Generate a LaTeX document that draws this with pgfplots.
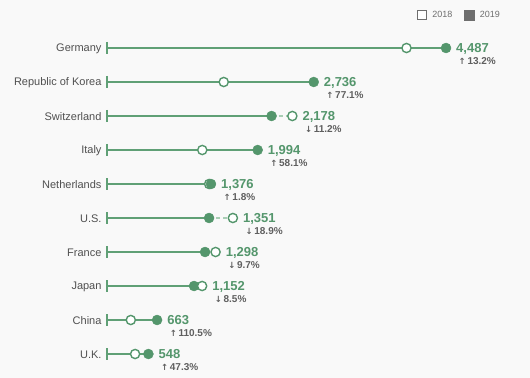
\documentclass[border=0pt]{standalone}
\usepackage{pgfplots}
\pgfplotsset{compat=1.18}
\usepackage{pgfplotstable}
\usepackage{fontspec}
\setmainfont{Liberation Sans}
\newfontfamily\sym{DejaVu Sans}
\definecolor{grn}{RGB}{84,150,108}
\definecolor{lgrn}{RGB}{96,160,118}
\definecolor{dgrn}{RGB}{168,206,180}
\definecolor{txt}{RGB}{80,80,80}
\definecolor{pctc}{RGB}{95,95,95}
\definecolor{legc}{RGB}{110,110,110}
\definecolor{bg}{RGB}{249,249,249}
\pgfplotstableread{
y v18 v19 xl lab pct
0 3964 4487 4487 {4,487} 13.2
1 1545 2736 2736 {2,736} 77.1
2 2453 2178 2453 {2,178} -11.2
3 1261 1994 1994 {1,994} 58.1
4 1352 1376 1376 {1,376} 1.8
5 1666 1351 1666 {1,351} -18.9
6 1437 1298 1437 {1,298} -9.7
7 1259 1152 1259 {1,152} -8.5
8 315 663 663 663 110.5
9 372 548 548 548 47.3
}\data
\begin{document}
\begin{tikzpicture}
\fill[bg] (-107bp,-7bp) rectangle (423bp,371bp);
\begin{axis}[
  at={(0,0)}, anchor=south west,
  scale only axis, width=400bp, height=340bp,
  xmin=0, xmax=5294, ymin=-0.5, ymax=9.5, y dir=reverse,
  clip=false,
  axis line style={draw=none},
  xtick=\empty,
  ytick={0,...,9},
  yticklabels={Germany,Republic of Korea,Switzerland,Italy,Netherlands,U.S.,France,Japan,China,U.K.},
  major tick length=0,
  yticklabel style={font=\fontsize{11bp}{13bp}\selectfont, text=txt, xshift=-2bp, yshift=-1bp},
  unbounded coords=jump,
  legend style={at={(1,1)}, anchor=south east, xshift=-2bp, yshift=8bp, draw=none, fill=none,
    font=\fontsize{9bp}{10bp}\selectfont, text=legc,
    /tikz/every even column/.append style={column sep=10bp}},
  legend columns=2,
]
\addlegendimage{legend image code/.code={\draw[legc, line width=1.3pt, fill=white] (0bp,-4.5bp) rectangle (9bp,4.5bp);}}
\addlegendentry{\hspace{3bp}2018}
\addlegendimage{legend image code/.code={\fill[legc] (0bp,-5bp) rectangle (10bp,5bp);}}
\addlegendentry{\hspace{3bp}2019}
% solid lines from 0 to 2019 value
\addplot[lgrn, line width=1.4pt, mark=none, forget plot] coordinates {
 (0,0) (4487,0) (nan,0)
 (0,1) (2736,1) (nan,1)
 (0,2) (2178,2) (nan,2)
 (0,3) (1994,3) (nan,3)
 (0,4) (1376,4) (nan,4)
 (0,5) (1351,5) (nan,5)
 (0,6) (1298,6) (nan,6)
 (0,7) (1152,7) (nan,7)
 (0,8) (663,8) (nan,8)
 (0,9) (548,9)
};
% start ticks
\addplot[only marks, mark=|, mark size=6bp, mark options={lgrn, line width=1.4pt}, forget plot]
 table[x expr=0, y=y] {\data};
% dashed segments for decreases
\addplot[dgrn, line width=1.4pt, dash pattern=on 4bp off 3bp, mark=none, forget plot] coordinates {
 (2178,2) (2453,2) (nan,2)
 (1351,5) (1666,5) (nan,5)
 (1298,6) (1437,6) (nan,6)
 (1152,7) (1259,7)
};
% 2019 markers drawn beneath (decreases)
\addplot[only marks, mark=*, mark size=5bp, mark options={draw=grn, fill=grn}, forget plot] coordinates {
 (2178,2) (1351,5) (1298,6) (1152,7)
};
% 2018 markers
\addplot[only marks, mark=*, mark size=4.6bp, mark options={draw=grn, fill=white, line width=1.4pt}, forget plot]
 table[x=v18, y=y] {\data};
% 2019 markers on top (increases)
\addplot[only marks, mark=*, mark size=5bp, mark options={draw=grn, fill=grn}, forget plot] coordinates {
 (4487,0) (2736,1) (1994,3) (1376,4) (663,8) (548,9)
};
% labels
\addplot[draw=none, mark=none, forget plot,
  point meta=explicit symbolic,
  visualization depends on={\thisrow{pct}\as\pct},
  nodes near coords={{\color{grn}\fontsize{13bp}{14bp}\selectfont\bfseries\pgfplotspointmeta}\\[-0.5bp]{\color{pctc}\fontsize{10bp}{11bp}\selectfont\bfseries\hspace{2.5bp}{\sym\fontsize{8.5bp}{9bp}\selectfont\ifdim\pct pt>0pt ↑\else ↓\fi}\,\pgfmathparse{abs(\pct)}\pgfmathprintnumber[fixed,precision=1,fixed zerofill,assume math mode=true]{\pgfmathresult}\%}},
  every node near coord/.append style={anchor=north west, align=left, inner sep=0pt, xshift=10bp, yshift=4.5bp},
] table[x=xl, y=y, meta=lab] {\data};
\end{axis}
\pgfresetboundingbox
\path (-107bp,-7bp) rectangle (423bp,371bp);
\end{tikzpicture}
\end{document}
